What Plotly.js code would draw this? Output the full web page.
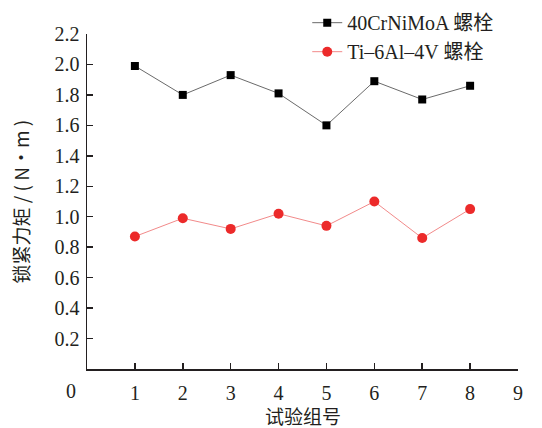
<!DOCTYPE html>
<html>
<head>
<meta charset="utf-8">
<script src="https://cdn.plot.ly/plotly-3.0.1.min.js"></script>
<style>
  html, body { margin: 0; padding: 0; background: #fff; }
  #chart { width: 542px; height: 428px; }
</style>
</head>
<body>
<div id="chart"></div>
<script>
// Test group numbers and locking torque (N·m) for the two bolt materials
const groups = [1, 2, 3, 4, 5, 6, 7, 8];
const steelTorque = [1.99, 1.80, 1.93, 1.81, 1.60, 1.89, 1.77, 1.86];
const titaniumTorque = [0.87, 0.99, 0.92, 1.02, 0.94, 1.10, 0.86, 1.05];
const seriesNames = ['40CrNiMoA 螺栓', 'Ti\u20136Al\u20134V 螺栓'];
const xTicks = [1, 2, 3, 4, 5, 6, 7, 8, 9];
const yTicks = [0.2, 0.4, 0.6, 0.8, 1.0, 1.2, 1.4, 1.6, 1.8, 2.0, 2.2];
const xTitle = '试验组号';
const yTitle = '锁紧力矩 / ( N·m )';

const FONT = 'Liberation Serif, Times New Roman, Noto Sans CJK SC, serif';
const CJK = 'Noto Sans CJK SC, Liberation Serif, sans-serif';
const INK = '#231f20';

const traces = [
  {
    x: groups, y: steelTorque, name: seriesNames[0],
    type: 'scatter', mode: 'lines+markers',
    line: { color: '#6a6a6a', width: 1 },
    marker: { symbol: 'square', size: 8, color: '#000000' }
  },
  {
    x: groups, y: titaniumTorque, name: seriesNames[1],
    type: 'scatter', mode: 'lines+markers',
    line: { color: '#f28a8a', width: 1 },
    marker: { symbol: 'circle', size: 10, color: '#ec2a2a' }
  }
];

const layout = {
  width: 542, height: 428,
  margin: { l: 87, r: 24, t: 34, b: 59, autoexpand: false },
  paper_bgcolor: '#ffffff', plot_bgcolor: '#ffffff',
  font: { family: FONT, size: 20, color: INK },
  showlegend: true,
  legend: {
    x: 0.511, y: 1.092, xanchor: 'left', yanchor: 'top',
    bgcolor: 'rgba(0,0,0,0)', borderwidth: 0,
    font: { family: FONT, size: 20, color: INK },
    tracegroupgap: 0, itemwidth: 30
  },
  xaxis: {
    range: [0, 9], tickvals: xTicks, ticktext: xTicks.map(String),
    showline: true, linecolor: INK, linewidth: 1.5,
    ticks: 'inside', ticklen: 6, tickwidth: 1.5, tickcolor: INK,
    showgrid: false, zeroline: false, mirror: false,
    ticklabelstandoff: 5
  },
  yaxis: {
    range: [0, 2.2], tickvals: yTicks, ticktext: yTicks.map(v => v.toFixed(1)),
    showline: true, linecolor: INK, linewidth: 1.5,
    ticks: 'inside', ticklen: 6, tickwidth: 1.5, tickcolor: INK,
    showgrid: false, zeroline: false, mirror: false,
    ticklabelstandoff: 2
  },
  annotations: [
    {
      // origin label shared by both axes, set left of the corner
      text: '0', xref: 'paper', yref: 'paper', x: -0.038, y: 0,
      xanchor: 'center', yanchor: 'top', yshift: -9, showarrow: false,
      font: { family: FONT, size: 20, color: INK }
    },
    {
      text: xTitle, xref: 'paper', yref: 'paper', x: 0.5, y: 0,
      xanchor: 'center', yanchor: 'middle', yshift: -46, showarrow: false,
      font: { family: CJK, size: 19, color: INK }
    },
    {
      text: yTitle, xref: 'paper', yref: 'paper', x: 0, y: 0.5,
      xanchor: 'center', yanchor: 'middle', xshift: -67, textangle: -90,
      showarrow: false,
      font: { family: CJK, size: 19, color: INK }
    }
  ]
};

Plotly.newPlot('chart', traces, layout, { displayModeBar: false, staticPlot: true });
</script>
</body>
</html>
